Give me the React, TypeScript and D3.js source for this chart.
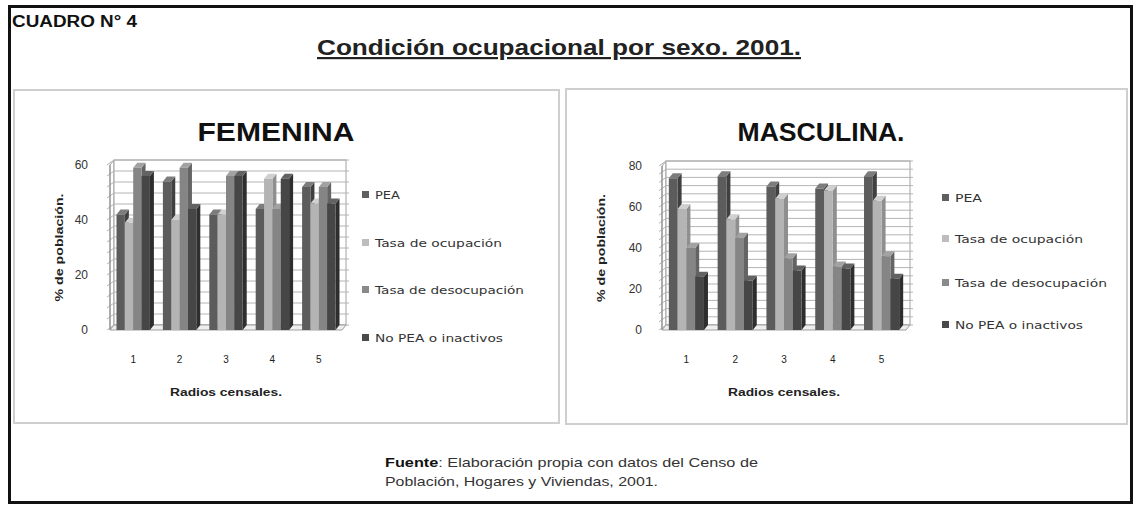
import React from 'react';
import * as d3 from 'd3';

// values (percent of population)
const categories = ['1', '2', '3', '4', '5'];
const seriesNames = ['PEA', 'Tasa de ocupación', 'Tasa de desocupación', 'No PEA o inactivos'];

const femPEA = [42, 54, 42, 44, 52];
const femOcupacion = [39, 40, 42, 55, 46];
const femDesocupacion = [59, 59, 56, 44, 52];
const femNoPEA = [56, 44, 56, 55, 46];

const masPEA = [74, 75, 70, 69, 75];
const masOcupacion = [59, 54, 64, 68, 63];
const masDesocupacion = [40, 45, 35, 31, 36];
const masNoPEA = [26, 24, 29, 30, 25];

const femTicks = [0, 20, 40, 60];
const masTicks = [0, 20, 40, 60, 80];

const barFront = ['#5c5c5c', '#b4b4b4', '#858585', '#464646'];
const barSide = ['#404040', '#8f8f8f', '#646464', '#2e2e2e'];
const barTop = ['#7c7c7c', '#d0d0d0', '#a2a2a2', '#626262'];
const legendColor = ['#5f5f5f', '#bdbdbd', '#8a8a8a', '#4a4a4a'];

const FONT = 'Arial, "Liberation Sans", sans-serif';
const WIDE = '"DejaVu Sans", Verdana, sans-serif';

function Chart3D({ left, right, top, bottom, max, ticks, values, dx, dy, title, titleX, titleLen,
  yTitleX, labelOff, legendX, legendRows, legendLens }) {
  const x = d3.scaleBand().domain(categories).range([left, right]).paddingInner(0.28).paddingOuter(0.14);
  const xs = d3.scaleBand().domain(seriesNames).range([0, x.bandwidth()]);
  const y = d3.scaleLinear().domain([0, max]).range([bottom, top]);
  const minor = d3.range(0, max + 0.001, 4);
  const grid = '#b4b4b4';

  return (
    <g>
      {/* side wall + back wall */}
      <polygon points={`${left},${bottom} ${left + dx},${bottom - dy} ${left + dx},${y(max) - dy} ${left},${y(max)}`} fill="#fff" stroke="#a0a0a0" />
      <rect x={left + dx} y={y(max) - dy} width={right - left} height={bottom - y(max)} fill="#fff" stroke="#a0a0a0" />
      {minor.map(v => (
        <g key={v}>
          <line x1={left + dx} x2={right + dx + 3} y1={y(v) - dy} y2={y(v) - dy} stroke={grid} />
          <line x1={left - 3} x2={left + dx} y1={y(v)} y2={y(v) - dy} stroke={grid} />
        </g>
      ))}
      {/* floor */}
      <polygon points={`${left},${bottom} ${left + dx},${bottom - dy} ${right + dx},${bottom - dy} ${right},${bottom}`} fill="#eee" stroke="#a0a0a0" />
      <line x1={left} x2={left} y1={bottom} y2={y(max)} stroke="#8a8a8a" />

      {categories.map((c, i) => (
        <g key={c}>
          {seriesNames.map((s, j) => {
            const bx = x(c) + xs(s);
            const bw = xs.bandwidth();
            const by = y(values[j][i]);
            return (
              <g key={s}>
                <polygon points={`${bx + bw},${by} ${bx + bw + dx},${by - dy} ${bx + bw + dx},${bottom - dy} ${bx + bw},${bottom}`} fill={barSide[j]} />
                <polygon points={`${bx},${by} ${bx + dx},${by - dy} ${bx + bw + dx},${by - dy} ${bx + bw},${by}`} fill={barTop[j]} />
                <rect x={bx} y={by} width={bw} height={bottom - by} fill={barFront[j]} />
              </g>
            );
          })}
          <text x={x(c) + x.bandwidth() / 2} y={bottom + 33} textAnchor="middle" fontSize={10} fill="#222">{c}</text>
        </g>
      ))}

      {ticks.map(t => (
        <text key={t} x={left - labelOff} y={y(t) + 4} textAnchor="end" fontSize={12} fill="#333">{t}</text>
      ))}

      <text x={(left + right) / 2} y={bottom + 66} textAnchor="middle" fontSize={10} fontWeight="bold" fill="#222"
        textLength={112} lengthAdjust="spacingAndGlyphs">Radios censales.</text>
      <text transform={`translate(${yTitleX},${(top + bottom) / 2}) rotate(-90)`} textAnchor="middle" fontSize={10}
        fontWeight="bold" fill="#222" textLength={108} lengthAdjust="spacingAndGlyphs">% de población.</text>

      <text x={titleX} y={141} textAnchor="middle" fontSize={25} fontWeight="bold" fill="#111"
        textLength={titleLen} lengthAdjust="spacingAndGlyphs">{title}</text>

      {seriesNames.map((s, j) => (
        <g key={s}>
          <rect x={legendX} y={legendRows[j] - 4} width={7} height={7} fill={legendColor[j]} />
          <text x={legendX + 13} y={legendRows[j] + 4} fontSize={11} fill="#333" fontFamily={WIDE}
            textLength={legendLens[j]} lengthAdjust="spacingAndGlyphs">{s}</text>
        </g>
      ))}
    </g>
  );
}

export default function App() {
  return (
    <svg width={1134} height={508} style={{ position: 'absolute', left: 0, top: 0, fontFamily: FONT, background: '#fff' }}>
      <rect x={0} y={0} width={1134} height={508} fill="#fff" />
      <rect x={9.5} y={6.5} width={1122} height={496} fill="none" stroke="#111" strokeWidth={3} />

      <text x={12} y={27} fontSize={16} fontWeight="bold" fill="#111" textLength={125} lengthAdjust="spacingAndGlyphs">CUADRO N° 4</text>
      <text x={559} y={55} textAnchor="middle" fontSize={22} fontWeight="bold" fill="#222"
        textLength={484} lengthAdjust="spacingAndGlyphs" style={{ textDecoration: 'underline' }}>Condición ocupacional por sexo. 2001.</text>

      <rect x={14} y={90} width={545} height={333} fill="#fff" stroke="#cfcfcf" strokeWidth={2} />
      <rect x={566} y={89} width={561} height={335} fill="#fff" stroke="#cfcfcf" strokeWidth={2} />

      <Chart3D left={110} right={342} top={165} bottom={330} max={60} ticks={femTicks}
        values={[femPEA, femOcupacion, femDesocupacion, femNoPEA]} dx={4} dy={5}
        title="FEMENINA" titleX={276} titleLen={157} yTitleX={63} labelOff={22}
        legendX={362} legendRows={[195, 243, 290, 338]} legendLens={[25, 127, 149, 128]} />

      <Chart3D left={662} right={906} top={166} bottom={330} max={80} ticks={masTicks}
        values={[masPEA, masOcupacion, masDesocupacion, masNoPEA]} dx={4} dy={5}
        title="MASCULINA." titleX={821} titleLen={167} yTitleX={605} labelOff={20}
        legendX={942} legendRows={[198, 239, 283, 325]} legendLens={[27, 128, 152, 128]} />

      <text x={385} y={467} fontSize={13.5} fill="#333" textLength={373} lengthAdjust="spacingAndGlyphs">
        <tspan fontWeight="bold" fill="#111">Fuente</tspan>: Elaboración propia con datos del Censo de
      </text>
      <text x={385} y={486} fontSize={13.5} fill="#333" textLength={273} lengthAdjust="spacingAndGlyphs">Población, Hogares y Viviendas, 2001.</text>
    </svg>
  );
}
